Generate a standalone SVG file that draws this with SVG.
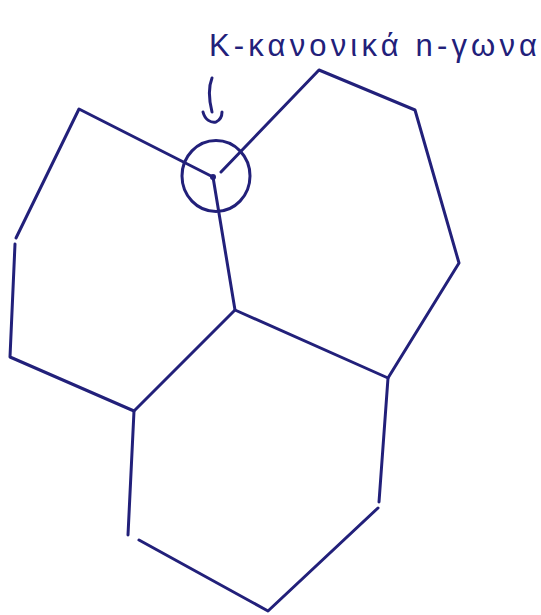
<svg xmlns="http://www.w3.org/2000/svg" width="541" height="615" viewBox="0 0 541 615">
<style>
.ink{fill:none;stroke:#22207a;stroke-width:3;stroke-linecap:round;stroke-linejoin:round}
.lbl{font-family:"Liberation Sans","DejaVu Sans",sans-serif;font-size:31px;fill:#22207a}
</style>
<rect width="541" height="615" fill="#ffffff"/>
<g id="hex-left">
<path class="ink" d="M213,177 L79,109 L16,238"/>
<path class="ink" d="M15,244 L10,357 L134,411"/>
</g>
<g id="hex-right">
<path class="ink" d="M221,172 L319,70 L415,110 L459,263 L388,378"/>
</g>
<g id="hex-bottom">
<path class="ink" d="M213,177 L235,310 L388,378 L379,502"/>
<path class="ink" d="M378,508 L268,611 L139,540"/>
<path class="ink" d="M128,535 L134,411 L235,310"/>
</g>
<g id="annotation">
<ellipse class="ink" cx="216" cy="176" rx="34" ry="35.5"/>
<circle cx="213" cy="177" r="3" fill="#22207a"/>
<path class="ink" d="M212,78 C208,88 209,100 212,112"/>
<path class="ink" d="M203,112 C205,120 211,123 216,122 C220,120 222,116 222,112"/>
<text class="lbl" x="209" y="56" textLength="328" lengthAdjust="spacing">K-κανονικά n-γωνα</text>
</g>
</svg>
